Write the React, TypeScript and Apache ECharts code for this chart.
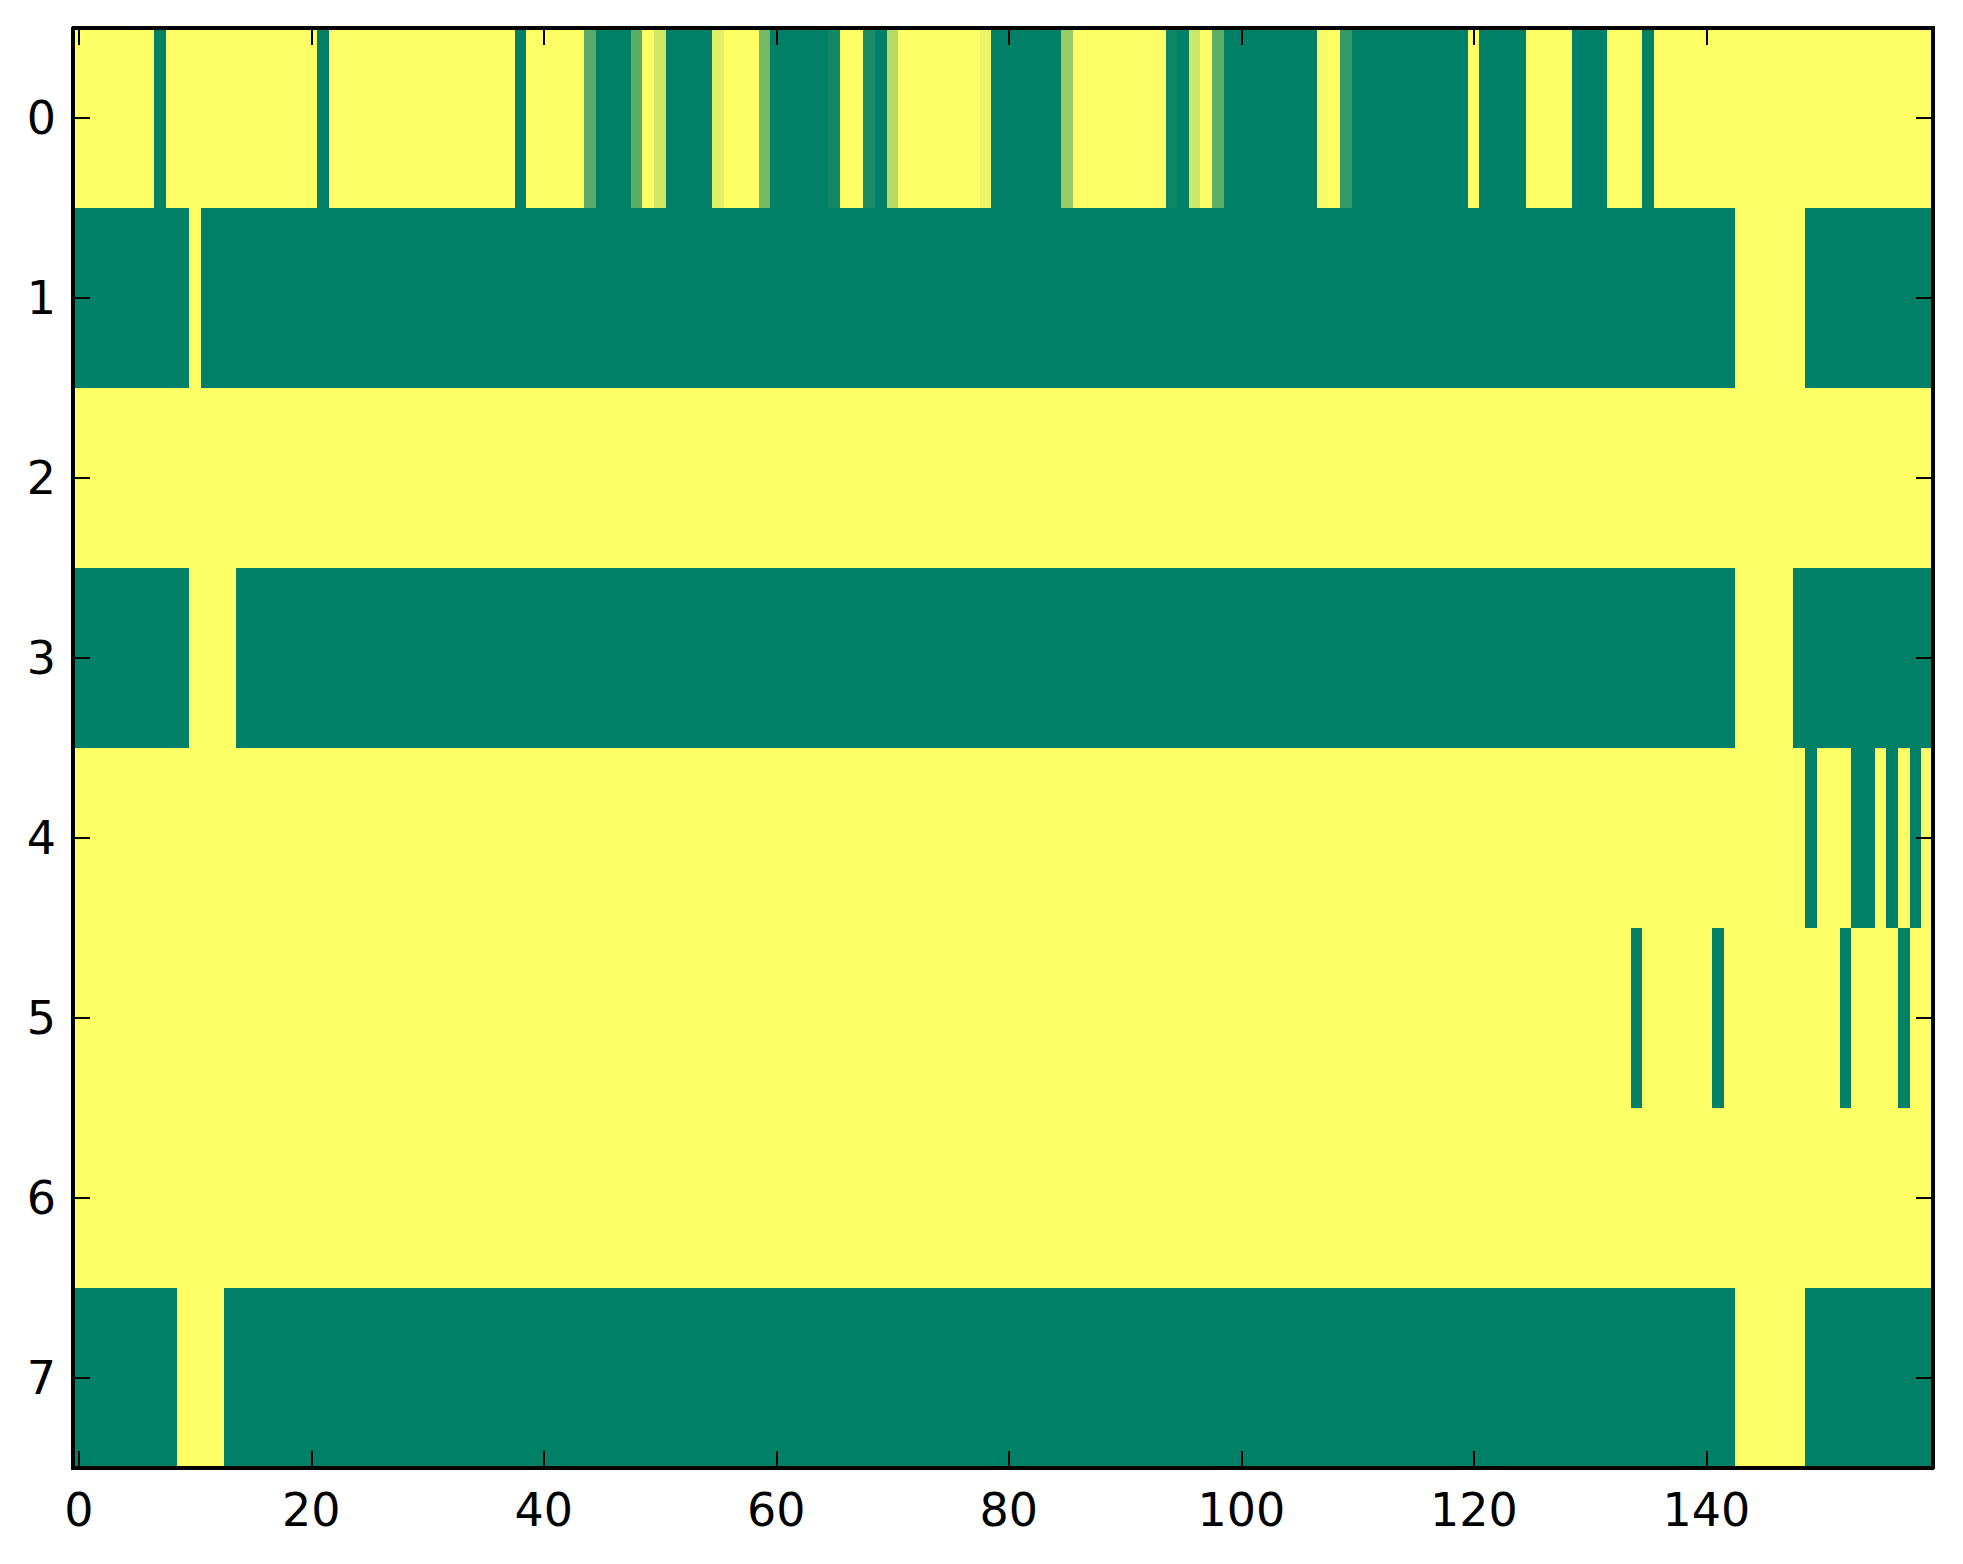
import React, { useEffect, useRef } from "react";
import * as echarts from "echarts";

// Column categories 0..159 and row categories 0..7
const xCategories: string[] = Array.from({ length: 160 }, (_, i) => String(i));
const yCategories: string[] = ["0", "1", "2", "3", "4", "5", "6", "7"];
const xTickLabels: string[] = ["0", "20", "40", "60", "80", "100", "120", "140"];

// Cell values (0 = dark green, 1 = yellow), 20 values per line
const row0: number[] = [
  1, 1, 1, 1, 1, 1, 1, 0, 1, 1, 1, 1, 1, 1, 1, 1, 1, 1, 1, 1,
  1, 0, 1, 1, 1, 1, 1, 1, 1, 1, 1, 1, 1, 1, 1, 1, 1, 1, 0, 1,
  1, 1, 1, 1, 0.34, 0, 0, 0, 0.36, 1, 0.82, 0, 0, 0, 0, 0.88, 1, 1, 1, 0.46,
  0, 0, 0, 0, 0, 0.06, 1, 1, 0.1, 0, 0.72, 1, 1, 1, 1, 1, 1, 1, 0.92, 0,
  0, 0, 0, 0, 0, 0.6, 1, 1, 1, 1, 1, 1, 1, 1, 0.05, 0, 0.8, 1, 0.37, 0,
  0, 0, 0, 0, 0, 0, 0, 0.97, 1, 0.2, 0, 0, 0, 0, 0, 0, 0, 0, 0, 0,
  1, 0, 0, 0, 0, 1, 1, 1, 1, 0, 0, 0, 1, 1, 1, 0, 1, 1, 1, 1,
  1, 1, 1, 1, 1, 1, 1, 1, 1, 1, 1, 1, 1, 1, 1, 1, 1, 1, 1, 1,
];
const row1: number[] = [
  0, 0, 0, 0, 0, 0, 0, 0, 0, 0, 1, 0, 0, 0, 0, 0, 0, 0, 0, 0,
  0, 0, 0, 0, 0, 0, 0, 0, 0, 0, 0, 0, 0, 0, 0, 0, 0, 0, 0, 0,
  0, 0, 0, 0, 0, 0, 0, 0, 0, 0, 0, 0, 0, 0, 0, 0, 0, 0, 0, 0,
  0, 0, 0, 0, 0, 0, 0, 0, 0, 0, 0, 0, 0, 0, 0, 0, 0, 0, 0, 0,
  0, 0, 0, 0, 0, 0, 0, 0, 0, 0, 0, 0, 0, 0, 0, 0, 0, 0, 0, 0,
  0, 0, 0, 0, 0, 0, 0, 0, 0, 0, 0, 0, 0, 0, 0, 0, 0, 0, 0, 0,
  0, 0, 0, 0, 0, 0, 0, 0, 0, 0, 0, 0, 0, 0, 0, 0, 0, 0, 0, 0,
  0, 0, 0, 1, 1, 1, 1, 1, 1, 0, 0, 0, 0, 0, 0, 0, 0, 0, 0, 0,
];
const row2: number[] = [
  1, 1, 1, 1, 1, 1, 1, 1, 1, 1, 1, 1, 1, 1, 1, 1, 1, 1, 1, 1,
  1, 1, 1, 1, 1, 1, 1, 1, 1, 1, 1, 1, 1, 1, 1, 1, 1, 1, 1, 1,
  1, 1, 1, 1, 1, 1, 1, 1, 1, 1, 1, 1, 1, 1, 1, 1, 1, 1, 1, 1,
  1, 1, 1, 1, 1, 1, 1, 1, 1, 1, 1, 1, 1, 1, 1, 1, 1, 1, 1, 1,
  1, 1, 1, 1, 1, 1, 1, 1, 1, 1, 1, 1, 1, 1, 1, 1, 1, 1, 1, 1,
  1, 1, 1, 1, 1, 1, 1, 1, 1, 1, 1, 1, 1, 1, 1, 1, 1, 1, 1, 1,
  1, 1, 1, 1, 1, 1, 1, 1, 1, 1, 1, 1, 1, 1, 1, 1, 1, 1, 1, 1,
  1, 1, 1, 1, 1, 1, 1, 1, 1, 1, 1, 1, 1, 1, 1, 1, 1, 1, 1, 1,
];
const row3: number[] = [
  0, 0, 0, 0, 0, 0, 0, 0, 0, 0, 1, 1, 1, 1, 0, 0, 0, 0, 0, 0,
  0, 0, 0, 0, 0, 0, 0, 0, 0, 0, 0, 0, 0, 0, 0, 0, 0, 0, 0, 0,
  0, 0, 0, 0, 0, 0, 0, 0, 0, 0, 0, 0, 0, 0, 0, 0, 0, 0, 0, 0,
  0, 0, 0, 0, 0, 0, 0, 0, 0, 0, 0, 0, 0, 0, 0, 0, 0, 0, 0, 0,
  0, 0, 0, 0, 0, 0, 0, 0, 0, 0, 0, 0, 0, 0, 0, 0, 0, 0, 0, 0,
  0, 0, 0, 0, 0, 0, 0, 0, 0, 0, 0, 0, 0, 0, 0, 0, 0, 0, 0, 0,
  0, 0, 0, 0, 0, 0, 0, 0, 0, 0, 0, 0, 0, 0, 0, 0, 0, 0, 0, 0,
  0, 0, 0, 1, 1, 1, 1, 1, 0, 0, 0, 0, 0, 0, 0, 0, 0, 0, 0, 0,
];
const row4: number[] = [
  1, 1, 1, 1, 1, 1, 1, 1, 1, 1, 1, 1, 1, 1, 1, 1, 1, 1, 1, 1,
  1, 1, 1, 1, 1, 1, 1, 1, 1, 1, 1, 1, 1, 1, 1, 1, 1, 1, 1, 1,
  1, 1, 1, 1, 1, 1, 1, 1, 1, 1, 1, 1, 1, 1, 1, 1, 1, 1, 1, 1,
  1, 1, 1, 1, 1, 1, 1, 1, 1, 1, 1, 1, 1, 1, 1, 1, 1, 1, 1, 1,
  1, 1, 1, 1, 1, 1, 1, 1, 1, 1, 1, 1, 1, 1, 1, 1, 1, 1, 1, 1,
  1, 1, 1, 1, 1, 1, 1, 1, 1, 1, 1, 1, 1, 1, 1, 1, 1, 1, 1, 1,
  1, 1, 1, 1, 1, 1, 1, 1, 1, 1, 1, 1, 1, 1, 1, 1, 1, 1, 1, 1,
  1, 1, 1, 1, 1, 1, 1, 1, 1, 0, 1, 1, 1, 0, 0, 1, 0, 1, 0, 1,
];
const row5: number[] = [
  1, 1, 1, 1, 1, 1, 1, 1, 1, 1, 1, 1, 1, 1, 1, 1, 1, 1, 1, 1,
  1, 1, 1, 1, 1, 1, 1, 1, 1, 1, 1, 1, 1, 1, 1, 1, 1, 1, 1, 1,
  1, 1, 1, 1, 1, 1, 1, 1, 1, 1, 1, 1, 1, 1, 1, 1, 1, 1, 1, 1,
  1, 1, 1, 1, 1, 1, 1, 1, 1, 1, 1, 1, 1, 1, 1, 1, 1, 1, 1, 1,
  1, 1, 1, 1, 1, 1, 1, 1, 1, 1, 1, 1, 1, 1, 1, 1, 1, 1, 1, 1,
  1, 1, 1, 1, 1, 1, 1, 1, 1, 1, 1, 1, 1, 1, 1, 1, 1, 1, 1, 1,
  1, 1, 1, 1, 1, 1, 1, 1, 1, 1, 1, 1, 1, 1, 0, 1, 1, 1, 1, 1,
  1, 0, 1, 1, 1, 1, 1, 1, 1, 1, 1, 1, 0, 1, 1, 1, 1, 0, 1, 1,
];
const row6: number[] = [
  1, 1, 1, 1, 1, 1, 1, 1, 1, 1, 1, 1, 1, 1, 1, 1, 1, 1, 1, 1,
  1, 1, 1, 1, 1, 1, 1, 1, 1, 1, 1, 1, 1, 1, 1, 1, 1, 1, 1, 1,
  1, 1, 1, 1, 1, 1, 1, 1, 1, 1, 1, 1, 1, 1, 1, 1, 1, 1, 1, 1,
  1, 1, 1, 1, 1, 1, 1, 1, 1, 1, 1, 1, 1, 1, 1, 1, 1, 1, 1, 1,
  1, 1, 1, 1, 1, 1, 1, 1, 1, 1, 1, 1, 1, 1, 1, 1, 1, 1, 1, 1,
  1, 1, 1, 1, 1, 1, 1, 1, 1, 1, 1, 1, 1, 1, 1, 1, 1, 1, 1, 1,
  1, 1, 1, 1, 1, 1, 1, 1, 1, 1, 1, 1, 1, 1, 1, 1, 1, 1, 1, 1,
  1, 1, 1, 1, 1, 1, 1, 1, 1, 1, 1, 1, 1, 1, 1, 1, 1, 1, 1, 1,
];
const row7: number[] = [
  0, 0, 0, 0, 0, 0, 0, 0, 0, 1, 1, 1, 1, 0, 0, 0, 0, 0, 0, 0,
  0, 0, 0, 0, 0, 0, 0, 0, 0, 0, 0, 0, 0, 0, 0, 0, 0, 0, 0, 0,
  0, 0, 0, 0, 0, 0, 0, 0, 0, 0, 0, 0, 0, 0, 0, 0, 0, 0, 0, 0,
  0, 0, 0, 0, 0, 0, 0, 0, 0, 0, 0, 0, 0, 0, 0, 0, 0, 0, 0, 0,
  0, 0, 0, 0, 0, 0, 0, 0, 0, 0, 0, 0, 0, 0, 0, 0, 0, 0, 0, 0,
  0, 0, 0, 0, 0, 0, 0, 0, 0, 0, 0, 0, 0, 0, 0, 0, 0, 0, 0, 0,
  0, 0, 0, 0, 0, 0, 0, 0, 0, 0, 0, 0, 0, 0, 0, 0, 0, 0, 0, 0,
  0, 0, 0, 1, 1, 1, 1, 1, 1, 0, 0, 0, 0, 0, 0, 0, 0, 0, 0, 0,
];

const rows: number[][] = [row0, row1, row2, row3, row4, row5, row6, row7];

const FONT = "DejaVu Sans";

export default function App() {
  const ref = useRef<HTMLDivElement>(null);

  useEffect(() => {
    document.body.style.margin = "0";
    if (!ref.current) return;
    const chart = echarts.init(ref.current, null, { renderer: "svg" });

    const data: [number, number, number][] = [];
    rows.forEach((row, r) => {
      row.forEach((v, c) => data.push([c, r, v]));
    });

    const showX = (idx: number) => xTickLabels.includes(xCategories[idx]);
    const showY = () => true;

    const axisLine = { show: true, onZero: false, lineStyle: { color: "#000", width: 4 } };
    const tickStyle = { color: "#000", width: 2 };

    const option: any = {
      animation: false,
      backgroundColor: "#ffffff",
      grid: { left: 73, top: 28, width: 1860, height: 1440, show: false },
      visualMap: {
        type: "continuous",
        show: false,
        min: 0,
        max: 1,
        dimension: 2,
        seriesIndex: 0,
        inRange: { color: ["#008066", "#ffff66"] },
      },
      xAxis: [
        {
          type: "category",
          data: xCategories,
          position: "bottom",
          boundaryGap: true,
          z: 10,
          axisLine,
          axisTick: { show: true, inside: true, length: 17, alignWithLabel: true, interval: showX, lineStyle: tickStyle },
          axisLabel: { show: true, interval: showX, margin: 19, color: "#000", fontSize: 46, fontFamily: FONT },
          splitLine: { show: false },
        },
        {
          type: "category",
          data: xCategories,
          position: "top",
          boundaryGap: true,
          z: 10,
          axisLine,
          axisTick: { show: true, inside: true, length: 17, alignWithLabel: true, interval: showX, lineStyle: tickStyle },
          axisLabel: { show: false },
          splitLine: { show: false },
        },
      ],
      yAxis: [
        {
          type: "category",
          data: yCategories,
          position: "left",
          inverse: true,
          boundaryGap: true,
          z: 10,
          axisLine,
          axisTick: { show: true, inside: true, length: 17, alignWithLabel: true, interval: showY, lineStyle: tickStyle },
          axisLabel: { show: true, interval: 0, margin: 17, color: "#000", fontSize: 46, fontFamily: FONT },
          splitLine: { show: false },
        },
        {
          type: "category",
          data: yCategories,
          position: "right",
          inverse: true,
          boundaryGap: true,
          z: 10,
          axisLine,
          axisTick: { show: true, inside: true, length: 17, alignWithLabel: true, interval: showY, lineStyle: tickStyle },
          axisLabel: { show: false },
          splitLine: { show: false },
        },
      ],
      series: [
        {
          type: "heatmap",
          xAxisIndex: 0,
          yAxisIndex: 0,
          data,
          itemStyle: { borderWidth: 0 },
          emphasis: { disabled: true },
          progressive: 0,
        },
      ],
    };

    chart.setOption(option);
    return () => chart.dispose();
  }, []);

  return (
    <>
      <style>{"#heat-root svg path { shape-rendering: crispEdges; }"}</style>
      <div
        id="heat-root"
        ref={ref}
        style={{ position: "absolute", left: 0, top: 0, width: 1963, height: 1564, background: "#fff" }}
      />
    </>
  );
}
